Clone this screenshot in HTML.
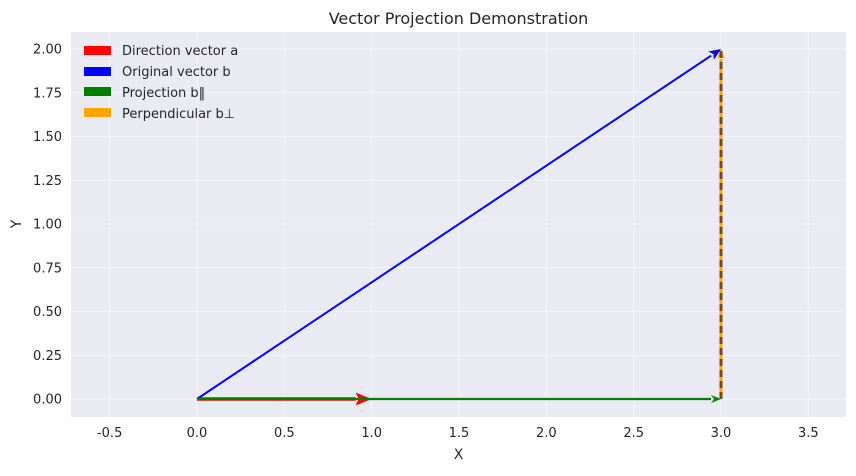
<!DOCTYPE html>
<html><head><meta charset="utf-8"><style>
body{margin:0;background:#fff;}
svg{font-family:"DejaVu Sans","Liberation Sans",sans-serif;}
</style></head><body>
<svg id="chart" width="856" height="471" xmlns="http://www.w3.org/2000/svg">
<rect x="71" y="32" width="775" height="385" fill="#eaeaf2"/>
<g id="grid"></g><g id="ticks"></g><g id="vecs"></g>
<text x="458.5" y="24" text-anchor="middle" font-size="16" fill="#262626">Vector Projection Demonstration</text>
<text x="458.5" y="459" text-anchor="middle" font-size="14" fill="#262626">X</text>
<text x="21" y="224" text-anchor="middle" font-size="14" fill="#262626" transform="rotate(-90 21 224)">Y</text>
<g font-size="13" fill="#262626">
<rect x="84" y="46" width="27" height="9" fill="red"/>
<text x="122" y="55">Direction vector a</text>
<rect x="84" y="67" width="27" height="9" fill="blue"/>
<text x="122" y="76">Original vector b</text>
<rect x="84" y="87" width="27" height="9" fill="green"/>
<text x="122" y="97">Projection b‖</text>
<rect x="84" y="108" width="27" height="9" fill="orange"/>
<text x="122" y="118">Perpendicular b⊥</text>
</g>
</svg>
<script>
const xTicks=[-0.5,0,0.5,1,1.5,2,2.5,3,3.5];
const yTicks=[0,0.25,0.5,0.75,1,1.25,1.5,1.75,2];
const vecNames=['direction-a','original-b','projection','perpendicular'];
const vecStart=[[0,0],[0,0],[0,0],[3,0]];
const vecEnd=[[1,0],[3,2],[3,0],[3,2]];
const vecColors=['red','blue','green','orange'];
const X=v=>197+v*174.67, Y=v=>399-v*175;
const NS='http://www.w3.org/2000/svg';
function mk(t,a,p){const e=document.createElementNS(NS,t);for(const k in a)e.setAttribute(k,a[k]);p.appendChild(e);return e;}
const grid=document.getElementById('grid'),ticks=document.getElementById('ticks'),vecs=document.getElementById('vecs');
xTicks.forEach(t=>{const l=mk('line',{x1:X(t),x2:X(t),y1:32,y2:417,stroke:'#f4f4f8','stroke-width':1},grid);


const tx=mk('text',{x:X(t),y:437,'text-anchor':'middle','font-size':13,fill:'#262626'},ticks);tx.textContent=t.toFixed(1);

});
yTicks.forEach(t=>{const l=mk('line',{x1:71,x2:846,y1:Y(t),y2:Y(t),stroke:'#f4f4f8','stroke-width':1},grid);


const tx=mk('text',{x:62,y:Y(t)+4.5,'text-anchor':'end','font-size':13,fill:'#262626'},ticks);tx.textContent=t.toFixed(2);

});
const widths=[3.5,2,2.2,3],heads=[16,12,10,10],hw=[6.5,5,4,4];
[0,1,2,3].forEach(i=>{
const x1=X(vecStart[i][0]),y1=Y(vecStart[i][1]),x2=X(vecEnd[i][0]),y2=Y(vecEnd[i][1]);
const g=mk('g',{},vecs);


const dx=x2-x1,dy=y2-y1,L=Math.hypot(dx,dy),ux=dx/L,uy=dy/L,h=heads[i],w=hw[i];
const bx=x2-ux*h,by=y2-uy*h;
mk('line',{x1:x1,y1:y1,x2:bx,y2:by,stroke:vecColors[i],'stroke-width':widths[i]},g);
mk('polygon',{points:`${x2},${y2} ${bx-uy*w},${by+ux*w} ${bx+ux*3},${by+uy*3} ${bx+uy*w},${by-ux*w}`,fill:vecColors[i]},g);
if(i===3)mk('line',{x1:x1,y1:y1,x2:x2,y2:y2+2,stroke:'#7a4a10','stroke-width':3,'stroke-dasharray':'7,4'},g);
});
</script>
</body></html>
